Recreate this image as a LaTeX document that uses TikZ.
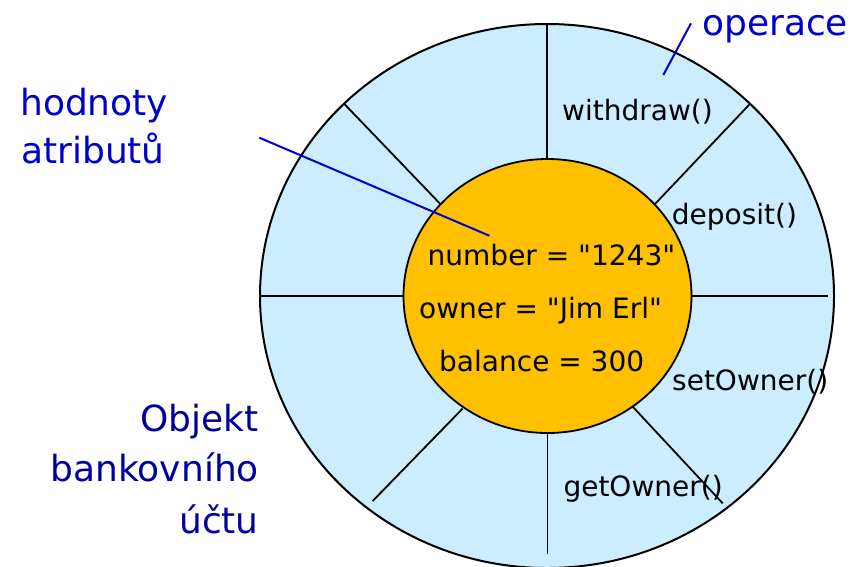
\documentclass[tikz,border=0pt]{standalone}
\usepackage{fontspec}
% plain mapping so that " stays a straight quote
\setmainfont{DejaVu Sans}[Ligatures=TeXOff]
\usetikzlibrary{shapes.geometric}

\definecolor{ringblue}{RGB}{204,236,255}
\definecolor{coreorange}{RGB}{255,192,0}
\definecolor{labelblue}{RGB}{0,0,204}
\definecolor{titleblue}{RGB}{0,0,160}

\tikzset{
  ring/.style={ellipse, draw=black, line width=2pt, fill=ringblue, inner sep=0pt},
  core/.style={ellipse, draw=black, line width=1.8pt, fill=coreorange, inner sep=0pt},
  divider/.style={draw=black, line width=1.8pt},
  leader/.style={draw=labelblue, line width=2pt},
  optext/.style={anchor=base west, inner sep=0pt, font=\fontsize{28}{34}\selectfont},
  attrtext/.style={anchor=base west, inner sep=0pt, font=\fontsize{28}{34}\selectfont},
  bluelabel/.style={inner sep=0pt, text=labelblue, font=\fontsize{36}{44}\selectfont},
  titlelabel/.style={anchor=base east, inner sep=0pt, text=titleblue, font=\fontsize{36}{44}\selectfont}
}

\begin{document}
\begin{tikzpicture}[x=1pt, y=-1pt]
  \useasboundingbox (0,0) rectangle (864,566);

  % outer ring of operations
  \node[ring, minimum width=574pt, minimum height=544pt] (outer) at (547,296) {};

  % dividers between the operation sectors
  \coordinate (dTopIn) at (547,159.3);    \coordinate (dTopOut) at (547,23.5);
  \coordinate (dBotIn) at (547.5,433);    \coordinate (dBotOut) at (547.5,554);
  \coordinate (dLeftIn) at (403.5,296);   \coordinate (dLeftOut) at (259.8,296);
  \coordinate (dRightIn) at (691.5,296);  \coordinate (dRightOut) at (828,296);
  \coordinate (dULIn) at (441,204.7);     \coordinate (dULOut) at (343.7,103.3);
  \coordinate (dURIn) at (655,204);       \coordinate (dUROut) at (750.5,103.3);
  \coordinate (dLRIn) at (632.7,406.7);   \coordinate (dLROut) at (722.7,503.3);
  \coordinate (dLLIn) at (462.5,408.7);   \coordinate (dLLOut) at (372.7,501);
  \foreach \d in {Top,Bot,Left,Right,UL,UR,LR,LL}
    \draw[divider] (d\d In) -- (d\d Out);

  % inner core of attribute values
  \node[core, minimum width=288pt, minimum height=274pt] (core) at (547.5,296) {};

  % attribute values
  \node[attrtext] (attrNumber) at (427.5,265) {number = "1243"};
  \node[attrtext] (attrOwner) at (419,318.3) {owner = "Jim Erl"};
  \node[attrtext] (attrBalance) at (439,371.7) {balance = 300};

  % operations
  \node[optext] (opWithdraw) at (562,120) {withdraw()};
  \node[optext] (opDeposit) at (671.7,224) {deposit()};
  \node[optext] (opSetOwner) at (672,390) {setOwner()};
  \node[optext] (opGetOwner) at (563.3,496.7) {getOwner()};

  % callout labels
  \node[bluelabel, anchor=base west] (lblOperace) at (702,35) {operace};
  \node[bluelabel, anchor=base west] (lblHodnoty) at (20,115) {hodnoty};
  \node[bluelabel, anchor=base west] (lblAtributu) at (21,163.3) {atributů};

  \node[titlelabel] (lblObjekt) at (259,431.7) {Objekt};
  \node[titlelabel] (lblBankovniho) at (259,481.7) {bankovního};
  \node[titlelabel] (lblUctu) at (259,533.3) {účtu};

  % leader lines of the callouts
  \coordinate (opTail) at (691,23.3);
  \coordinate (opTip) at (663.3,75);
  \coordinate (attrTail) at (259.3,137.7);
  \coordinate (attrTip) at (489.3,235.7);
  \draw[leader] (opTail) -- (opTip);
  \draw[leader] (attrTail) -- (attrTip);
\end{tikzpicture}
\end{document}
